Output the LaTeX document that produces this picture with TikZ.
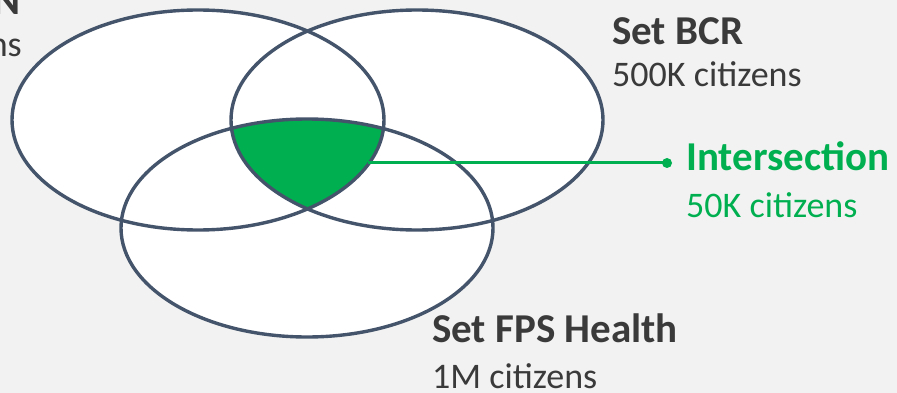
\documentclass[tikz,border=0pt]{standalone}
\usepackage{fontspec}
\setmainfont{Carlito}
\definecolor{bgc}{HTML}{F2F2F2}
\definecolor{edge}{HTML}{44546A}
\definecolor{grn}{HTML}{00B050}
\definecolor{txt}{HTML}{3A3A3A}
\begin{document}
\begin{tikzpicture}[x=1pt,y=-1pt,
  ell/.style={draw=edge,line width=3.4pt},
  title/.style={anchor=base west,inner sep=0pt,text=txt,font=\fontsize{41}{41}\selectfont\bfseries},
  sub/.style={anchor=base west,inner sep=0pt,text=txt,font=\fontsize{36}{36}\selectfont},
  gtitle/.style={title,text=grn},
  gsub/.style={sub,text=grn}]
\useasboundingbox (0,0) rectangle (897,393);
\clip (0,0) rectangle (897,393);
\fill[bgc] (0,0) rectangle (897,393);
% ellipse centres
\coordinate (cL) at (198,120);
\coordinate (cR) at (417,120);
\coordinate (cB) at (307,228);
\fill[white] (cL) ellipse [x radius=186, y radius=110];
\fill[white] (cR) ellipse [x radius=186, y radius=110];
\fill[white] (cB) ellipse [x radius=186, y radius=109];
\begin{scope}
  \clip (cL) ellipse [x radius=186, y radius=110];
  \clip (cR) ellipse [x radius=186, y radius=110];
  \fill[grn] (cB) ellipse [x radius=186, y radius=109];
\end{scope}
\draw[ell] (cL) ellipse [x radius=186, y radius=110];
\draw[ell] (cR) ellipse [x radius=186, y radius=110];
\draw[ell] (cB) ellipse [x radius=186, y radius=109];
% connector
\coordinate (gstart) at (368,163);
\coordinate (gdot) at (667,163);
\draw[grn,line width=3pt] (gstart) -- (gdot);
\fill[grn] (gdot) circle (5);
% texts
\node[title,anchor=base east] (tl1) at (21,15) {N};
\node[sub,anchor=base east] (tl2) at (22,57) {ns};
\node[title] (bcr) at (612,45) {Set BCR};
\node[sub] (bcrn) at (612,87) {500K citizens};
\node[gtitle] (inter) at (686,171) {Intersection};
\node[gsub] (intern) at (686,217) {50K citizens};
\node[title] (fps) at (432,342) {Set FPS Health};
\node[sub,text depth=0pt] (fpsn) at (432,388) {1M citizens};
\end{tikzpicture}
\end{document}
